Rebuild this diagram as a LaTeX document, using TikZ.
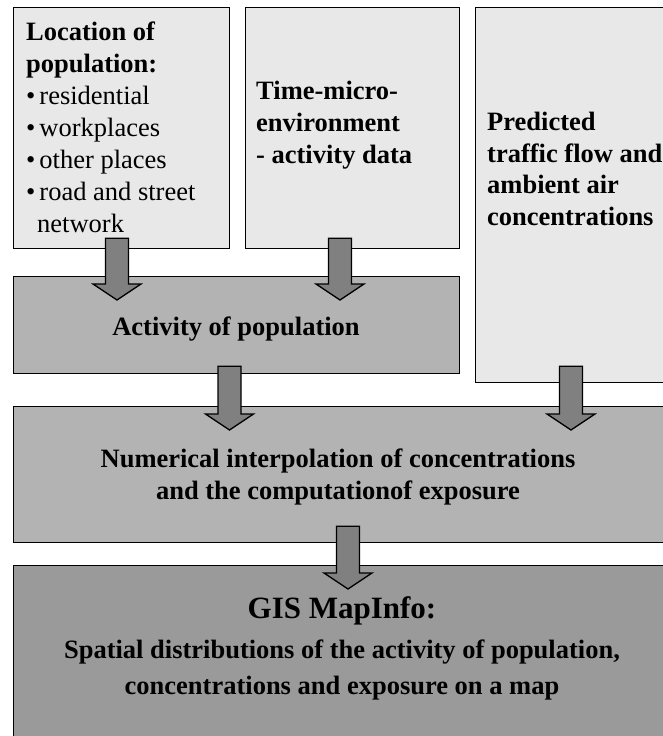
\documentclass[tikz,border=0pt]{standalone}
\usepackage{fontspec}
\setmainfont{Liberation Serif}
\usetikzlibrary{positioning, calc}
\definecolor{paleBox} {HTML}{E8E8E8}
\definecolor{midBox}  {HTML}{B3B3B3}
\definecolor{darkBox} {HTML}{9A9A9A}
\definecolor{flowFill}{HTML}{808080}

% block arrow: [shaft start inside source], x, source, target
\newcommand{\flowarrow}[4][11]{%
  \coordinate (top) at ($(#2,0 |- #3.south)+(0,-#1)$);
  \coordinate (tip) at ($(#2,0 |- #4.north)+(0,24)$);
  \draw[flow] ($(top)+(-11.5,0)$) -- ($(top)+(11.5,0)$)
    -- ($(tip)+(11.5,-16)$) -- ($(tip)+(24,-16)$) -- (tip)
    -- ($(tip)+(-24,-16)$) -- ($(tip)+(-11.5,-16)$) -- cycle;
}
\newcommand{\itembullet}{\textbullet\hspace{4pt}}

\begin{document}
\begin{tikzpicture}[x=1pt, y=-1pt,
    box/.style ={draw=black, line width=1.3pt, anchor=north west,
                 inner sep=0pt},
    pale/.style={box, fill=paleBox},
    mid/.style ={box, fill=midBox},
    dark/.style={box, fill=darkBox},
    txt/.style ={font=\fontsize{26.5}{32}\selectfont, inner sep=0pt},
    flow/.style={draw=black, line width=1.3pt, fill=flowFill, line join=miter}]

  \useasboundingbox (0,0) rectangle (663,736);
  \clip (0,0) rectangle (663,736);

  % input boxes
  \node[pale, minimum width=216, minimum height=241] (loc)  at (13,7)  {};
  \node[pale, minimum width=214, minimum height=241] (time) at (245,7) {};
  \node[pale, minimum width=200, minimum height=375] (pred) at (475,7) {};
  % processing
  \node[mid,  minimum width=446, minimum height=97]  (act)  at (13,276) {};
  \node[mid,  minimum width=670, minimum height=136] (num)  at (13,406) {};
  \node[dark, minimum width=670, minimum height=200] (gis)  at (13,565) {};

  \node[txt, anchor=north west, align=left] (loctxt) at ($(loc.north west)+(13,14.5)$)
    {\textbf{Location of}\\\textbf{population:}\\
     \itembullet residential\\\itembullet workplaces\\
     \itembullet other places\\\itembullet road and street\\
     \hspace{11pt}network};
  \node[txt, anchor=north west, align=left, font=\fontsize{26.5}{32}\selectfont\bfseries]
    (timetxt) at ($(time.north west)+(11,74)$)
    {Time-micro-\\environment\\- activity data};
  \node[txt, anchor=north west, align=left, font=\fontsize{26.5}{31.5}\selectfont\bfseries]
    (predtxt) at ($(pred.north west)+(12,105)$)
    {Predicted\\traffic flow and\\ambient air\\concentrations};
  \node[txt, anchor=base, font=\fontsize{26.5}{32}\selectfont\bfseries]
    (acttxt) at (236,335) {Activity of population};
  \node[txt, anchor=north, align=center, font=\fontsize{26.5}{32}\selectfont\bfseries]
    (numtxt) at (338,449)
    {Numerical interpolation of concentrations\\and the computationof exposure};
  \node[txt, anchor=north, align=center, font=\fontsize{26.5}{36}\selectfont\bfseries]
    (gistxt) at (342,596)
    {{\fontsize{31}{36}\selectfont GIS MapInfo:}\\[4pt]
     Spatial distributions of the activity of population,\\
     concentrations and exposure on a map};

  % arrows between boxes
  \flowarrow{117}{loc}{act}
  \flowarrow{340}{time}{act}
  \flowarrow[8]{229.5}{act}{num}
  \flowarrow[17]{571}{pred}{num}
  \flowarrow[17]{348}{num}{gis}
\end{tikzpicture}
\end{document}
